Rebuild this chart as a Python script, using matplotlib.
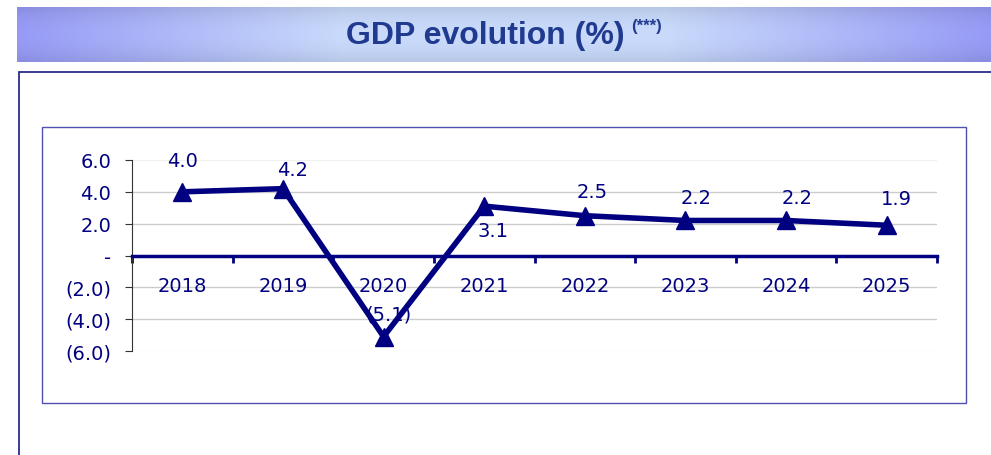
import matplotlib
matplotlib.use('Agg')
import matplotlib.pyplot as plt
import numpy as np
from matplotlib.patches import Rectangle
from matplotlib.colors import LinearSegmentedColormap

years = ['2018', '2019', '2020', '2021', '2022', '2023', '2024', '2025']
gdp = [4.0, 4.2, -5.1, 3.1, 2.5, 2.2, 2.2, 1.9]

# data label offsets (pixels, dx right / dy up) as placed in the original
label_dx = [0, 10, 5, 9, 7, 11, 11, 10]
label_dy = [31, 19, 23, -24, 24, 23, 23, 27]

navy = '#000080'
W, H = 991, 456


def fx(px):
    return px / W


def fy(py):
    return 1 - py / H


def fmt(v):
    if abs(v) < 1e-9:
        return '-'
    if v < 0:
        return '({:.1f})'.format(-v)
    return '{:.1f}'.format(v)


fig = plt.figure(figsize=(W / 100, H / 100), dpi=100)
fig.patch.set_facecolor('white')

# title banner with gradient
ban = fig.add_axes([fx(17), fy(63), fx(W - 17), 55 / H])
ban.axis('off')
cmap = LinearSegmentedColormap.from_list('ban', ['#979bf6', '#c9dafb', '#c9dafb', '#979bf6'])
xs = np.linspace(0, 1, 400)
ys = np.linspace(-1, 1, 60)
grad = xs[None, :] * np.ones((60, 1))
vert = 0.25 * ys[:, None] ** 2
img = cmap(grad)
img[..., :3] = img[..., :3] * (1 - vert[..., None] * 0.35)
ban.imshow(img, aspect='auto', extent=[0, 1, 0, 1])
ban.set_xlim(0, 1)
ban.set_ylim(0, 1)
fig.text(fx(485), fy(36), 'GDP evolution (%)', ha='center', va='center',
         fontsize=23, fontweight='bold', color='#1f3a8f', family='Liberation Sans')
fig.text(fx(631), fy(26), '(***)', ha='left', va='center',
         fontsize=12, fontweight='bold', color='#1f3a8f', family='Liberation Sans')

# frames
fig.patches.append(Rectangle((fx(19), fy(470)), fx(1000), 397 / H, transform=fig.transFigure,
                             fill=False, edgecolor='#1a1a80', linewidth=1.2))
fig.patches.append(Rectangle((fx(42), fy(404)), fx(924), 276 / H, transform=fig.transFigure,
                             fill=False, edgecolor='#5050b0', linewidth=1.0))

ax = fig.add_axes([fx(132), fy(352), fx(937 - 132), 191 / H])
ax.set_facecolor('none')
x = np.arange(len(years)) + 0.5
ax.set_xlim(0, len(years))
ax.set_ylim(-6, 6)

yt = np.arange(-6, 7, 2)
for v in yt:
    c = '#f0f0f0' if abs(v) == 6 else '#cccccc'
    if v != 0:
        ax.axhline(v, color=c, linewidth=1, zorder=0)

ax.plot(x, gdp, color=navy, linewidth=4, marker='^', markersize=13, zorder=3, clip_on=False)

for xi, v, dx, dy in zip(x, gdp, label_dx, label_dy):
    ax.annotate(fmt(v), (xi, v), xytext=(dx * 0.72, dy * 0.72), textcoords='offset points',
                ha='center', va='center', fontsize=14, color=navy)

for s in ['top', 'right']:
    ax.spines[s].set_visible(False)
ax.spines['left'].set_color('#333333')
ax.spines['bottom'].set_position(('data', 0))
ax.spines['bottom'].set_color(navy)
ax.spines['bottom'].set_linewidth(2.5)

ax.set_yticks(yt)
ax.set_yticklabels([fmt(v) for v in yt])
ax.tick_params(axis='y', direction='out', length=5, color='#333333', labelcolor=navy,
               labelsize=14, pad=10)

ax.set_xticks(np.arange(len(years) + 1))
ax.set_xticklabels([])
ax.set_xticks(x, minor=True)
ax.set_xticklabels(years, minor=True)
ax.tick_params(axis='x', which='major', direction='out', length=5, width=2, color=navy)
ax.tick_params(axis='x', which='minor', length=0, pad=15, labelsize=14, labelcolor=navy)

plt.savefig('out.png', dpi=100)
